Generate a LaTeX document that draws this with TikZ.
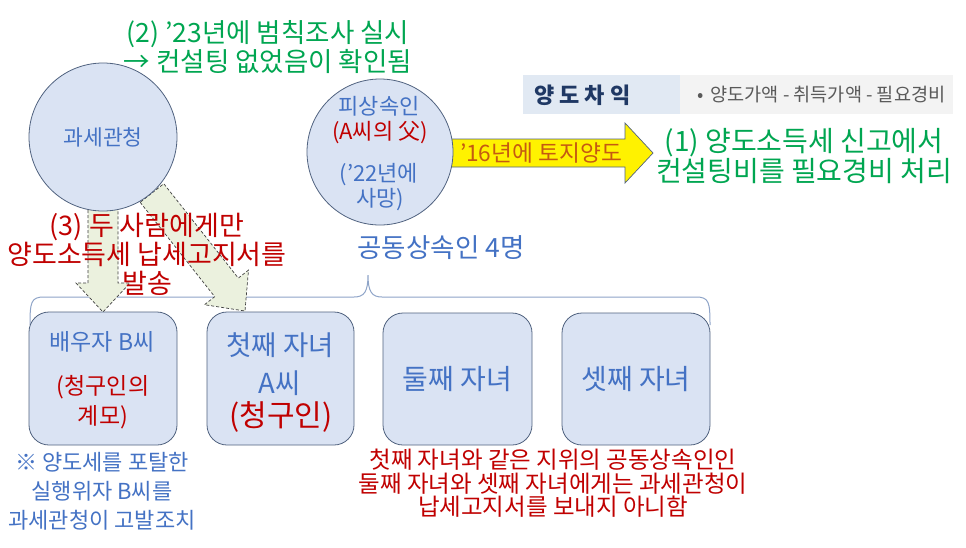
\documentclass[tikz,border=0pt]{standalone}
\usepackage{fontspec}
\setmainfont{Noto Sans CJK KR}
\definecolor{cfill}{HTML}{DAE3F3}
\definecolor{cdraw}{HTML}{50627F}
\definecolor{tblue}{HTML}{4472C4}
\definecolor{tred}{HTML}{C00000}
\definecolor{tgreen}{HTML}{00A651}
\definecolor{torange}{HTML}{C55A11}
\definecolor{afill}{HTML}{EBF1DE}
\definecolor{adraw}{HTML}{404040}
\definecolor{bracec}{HTML}{8EA4C8}
\definecolor{cellAc}{HTML}{E1E9F3}
\definecolor{cellBc}{HTML}{F3F3F3}
\definecolor{navy}{HTML}{1F3864}
\definecolor{tgray}{HTML}{595959}
\newcommand{\fsz}[2]{\fontsize{#1}{#2}\selectfont}
\begin{document}
\begin{tikzpicture}[x=1pt,y=-1pt,
  circ/.style={circle, draw=cdraw, fill=cfill, line width=0.8pt, inner sep=0pt},
  rbox/.style={rectangle, rounded corners=20pt, draw=cdraw, fill=cfill, line width=0.8pt, inner sep=0pt},
  blockarrow/.style={draw=adraw, fill=afill, dash pattern=on 3pt off 2pt, line width=0.7pt},
  txt/.style={inner sep=0pt, align=center},
]
\useasboundingbox (0,0) rectangle (966,547);
\fill[white] (0,0) rectangle (966,547);

% brace over the four heirs
\draw[bracec, line width=1pt] (30,325) .. controls (30,302) and (31,297) .. (44,297) -- (354,297)
  .. controls (364,297) and (368,292) .. (368,275) .. controls (368,292) and (372,297) .. (382,297)
  -- (696,297) .. controls (709,297) and (710,302) .. (710,325);

% block arrows from the tax office
\draw[blockarrow] (88,195) -- (88,283) -- (76,283) -- (103,312) -- (130,283) -- (118,283) -- (118,195) -- cycle;
\draw[blockarrow] (140.2,202.3) -- (214.7,296.7) -- (204.5,304.7) -- (245,311) -- (248.5,270.1) -- (238.3,278.1) -- (163.8,183.7) -- cycle;

% yellow arrow
\draw[draw=cdraw, fill=yellow, line width=0.7pt] (440,139) -- (625,139) -- (625,123) -- (653,153) -- (625,183) -- (625,167) -- (440,167) -- cycle;

% circles
\node[circ, minimum size=148pt] (tax) at (103,137) {};
\node[txt, font=\fsz{21.5}{24}, text=tblue] (taxt) at (tax.center) {과세관청};
\node[circ, minimum size=146pt] (dec) at (380,152) {};
\node[txt, font=\fsz{22}{24}, text=tblue] (dec1) at (379,106) {피상속인};
\node[txt, font=\fsz{22}{24}, text=tred] (dec2) at (380,133) {(A씨의 父)};
\node[txt, font=\fsz{22}{24}, text=tblue] (dec3) at (379,175) {(’22년에};
\node[txt, font=\fsz{22}{24}, text=tblue] (dec4) at (380,200) {사망)};

\node[txt, font=\fsz{22.7}{24}, text=torange] (sale) at (541,153) {’16년에 토지양도};

% table
\node[rectangle, fill=cellAc, minimum width=157pt, minimum height=39pt, inner sep=0pt] (cellA) at (601.5,94.5) {};
\node[rectangle, fill=cellBc, minimum width=273pt, minimum height=39pt, inner sep=0pt] (cellB) at (816.5,94.5) {};
\node[txt, anchor=west, font=\bfseries\fsz{22}{24}, text=navy] (cellAt) at (534,95) {양 도 차 익};
\node[txt, anchor=west, font=\fsz{18.6}{22}, text=tgray] (cellBt) at (697,95) {•\hspace{7pt}양도가액 - 취득가액 - 필요경비};

% green texts
\node[txt, font=\fsz{26.5}{29}, text=tgreen] (note2) at (268,47.5) {(2) ’23년에 범칙조사 실시\\→ 컨설팅 없었음이 확인됨};
\node[txt, font=\fsz{28}{28}, text=tgreen] (note1) at (804,156) {(1) 양도소득세 신고에서\\컨설팅비를 필요경비 처리};

% red note (3)
\node[txt, font=\fsz{27}{29}, text=tred] (note3) at (147,254) {(3) 두 사람에게만\\양도소득세 납세고지서를\\발송};

\node[txt, font=\fsz{26.5}{28}, text=tblue] (joint) at (441,248) {공동상속인 4명};

% heirs
\node[rbox, minimum width=148pt, minimum height=133pt] (spouse) at (103,378.5) {};
\node[rbox, minimum width=147pt, minimum height=133pt] (first) at (280.5,378.5) {};
\node[rbox, minimum width=149pt, minimum height=132pt] (second) at (457.5,379) {};
\node[rbox, minimum width=148pt, minimum height=132pt] (third) at (636,379) {};

\node[txt, font=\fsz{23}{24}, text=tblue] (sp1) at (102,342) {배우자 B씨};
\node[txt, font=\fsz{23}{24}, text=tred] (sp2) at (103,387) {(청구인의};
\node[txt, font=\fsz{23}{24}, text=tred] (sp3) at (103,417) {계모)};
\node[txt, font=\fsz{27.5}{28}, text=tblue] (fi1) at (280,345) {첫째 자녀};
\node[txt, font=\fsz{27.5}{28}, text=tblue] (fi2) at (280,383) {A씨};
\node[txt, font=\fsz{30}{32}, text=tred] (fi3) at (281,417) {(청구인)};
\node[txt, font=\fsz{28}{28}, text=tblue] (se1) at (second.center) {둘째 자녀};
\node[txt, font=\fsz{28}{28}, text=tblue] (th1) at (third.center) {셋째 자녀};

% bottom notes
\node[txt, font=\fsz{22}{29}, text=tblue] (note4) at (102,491) {※ 양도세를 포탈한\\실행위자 B씨를\\과세관청이 고발조치};
\node[txt, font=\fsz{23.5}{23.5}, text=tred] (note5) at (553,483.5) {첫째 자녀와 같은 지위의 공동상속인인\\둘째 자녀와 셋째 자녀에게는 과세관청이\\납세고지서를 보내지 아니함};
\end{tikzpicture}
\end{document}
